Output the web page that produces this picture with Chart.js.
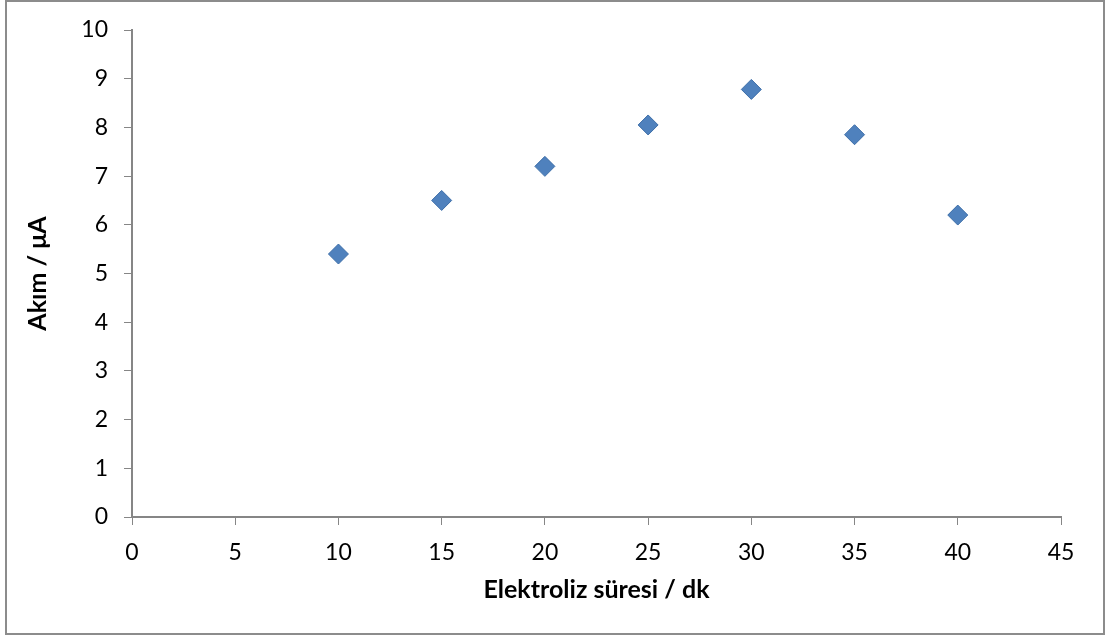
<!DOCTYPE html>
<html>
<head>
<meta charset="utf-8">
<script src="https://cdn.jsdelivr.net/npm/chart.js@4"></script>
<style>
  html, body { margin: 0; padding: 0; background: #fff; }
  #wrap { width: 1107px; height: 643px; position: relative; }
</style>
</head>
<body>
<div id="wrap"><canvas id="chart"></canvas></div>
<script>
// data
var sureler = [10, 15, 20, 25, 30, 35, 40];
var akimlar = [5.4, 6.5, 7.2, 8.05, 8.78, 7.85, 6.2];
var xBaslik = 'Elektroliz süresi / dk';
var yBaslik = 'Akım / μA';

var noktalar = sureler.map(function (x, i) { return { x: x, y: akimlar[i] }; });

var axisGray = '#868686';

// outer frame around the chart
var frame = {
  id: 'frame',
  afterDraw: function (chart) {
    var ctx = chart.ctx;
    ctx.save();
    ctx.strokeStyle = '#8c8c8c';
    ctx.lineWidth = 2;
    ctx.strokeRect(6, 1, 1098, 633);
    ctx.restore();
  }
};

var ctx = document.getElementById('chart').getContext('2d');
new Chart(ctx, {
  type: 'scatter',
  data: {
    datasets: [{
      data: noktalar,
      pointStyle: 'rectRot',
      pointRadius: 10,
      pointHoverRadius: 10,
      backgroundColor: '#4f81bd',
      borderColor: '#3d6ea8',
      borderWidth: 1
    }]
  },
  options: {
    responsive: true,
    maintainAspectRatio: false,
    animation: false,
    layout: { padding: { left: 23, right: 46, top: 30, bottom: 38 } },
    plugins: {
      legend: { display: false },
      tooltip: { enabled: false }
    },
    scales: {
      x: {
        type: 'linear',
        min: 0,
        max: 45,
        ticks: { stepSize: 5, color: '#000', padding: 14, font: { family: 'Lato', size: 23 } },
        grid: { drawOnChartArea: false, drawTicks: true, tickLength: 8, color: axisGray },
        border: { color: axisGray, width: 2 },
        title: { display: true, text: xBaslik, color: '#000', padding: 0, font: { family: 'Lato', size: 25, weight: 'bold' } },
        afterFit: function (s) { s.height = 88; }
      },
      y: {
        min: 0,
        max: 10,
        ticks: { stepSize: 1, color: '#000', padding: 16, font: { family: 'Lato', size: 23 } },
        grid: { drawOnChartArea: false, drawTicks: true, tickLength: 8, color: axisGray },
        border: { color: axisGray, width: 2 },
        title: { display: true, text: yBaslik, color: '#000', padding: 0, font: { family: 'Lato', size: 25, weight: 'bold' } },
        afterFit: function (s) { s.width = 109; }
      }
    }
  },
  plugins: [frame]
});
</script>
</body>
</html>
